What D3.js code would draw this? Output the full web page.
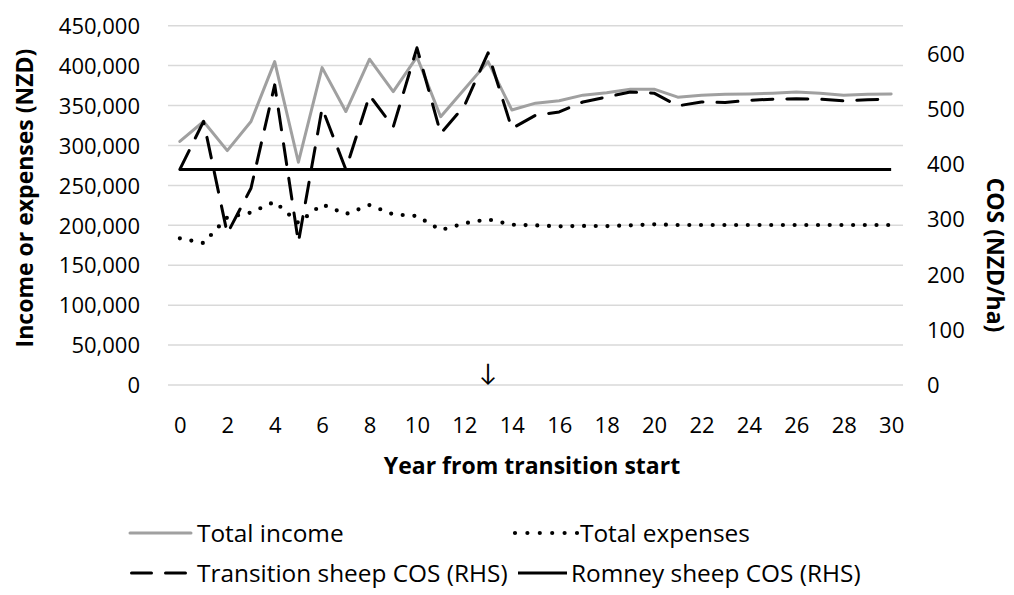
<!DOCTYPE html>
<html>
<head>
<meta charset="utf-8">
<script src="https://cdn.jsdelivr.net/npm/d3@7"></script>
<style>
  html, body { margin: 0; padding: 0; background: #fff; }
  svg { display: block; }
  text { font-family: "Open Sans", Lato, sans-serif; fill: #000; }
</style>
</head>
<body>
<svg id="chart" width="1014" height="595"></svg>
<script>
// ---- Data ----
const years = [0,1,2,3,4,5,6,7,8,9,10,11,12,13,14,15,16,17,18,19,20,21,22,23,24,25,26,27,28,29,30];
const totalIncome = [305000, 330000, 293500, 330000, 405000, 279000, 397500, 342500, 408000, 367500, 411000, 336000, 370500, 405000, 344500, 353000, 356000, 363000, 366000, 370500, 370500, 360500, 363000, 364000, 364500, 365500, 367000, 365500, 363000, 364000, 364500];
const totalExpenses = [183700, 177800, 210000, 216000, 229600, 203000, 226300, 214000, 225400, 213700, 211700, 194000, 202500, 207500, 200800, 200000, 198700, 199300, 199000, 200000, 201200, 200400, 200400, 200400, 200400, 200400, 200400, 200400, 200400, 200400, 200400];
const transitionCOS = [390, 477, 274, 356, 543, 258, 501, 390, 524, 467, 610, 455, 505, 601, 464, 488, 494, 512, 521, 530, 528, 505, 512, 511, 515, 517, 518, 517, 514, 516, 517];
const romneyCOS = [390, 390, 390, 390, 390, 390, 390, 390, 390, 390, 390, 390, 390, 390, 390, 390, 390, 390, 390, 390, 390, 390, 390, 390, 390, 390, 390, 390, 390, 390, 390];
const leftTicks = [0, 50000, 100000, 150000, 200000, 250000, 300000, 350000, 400000, 450000];
const rightTicks = [0, 100, 200, 300, 400, 500, 600];
const xTickLabels = [0,2,4,6,8,10,12,14,16,18,20,22,24,26,28,30];
const seriesNames = ["Total income", "Total expenses", "Transition sheep COS (RHS)", "Romney sheep COS (RHS)"];
const arrowYear = 13;

// ---- Layout ----
const svg = d3.select("#chart");
const plot = { left: 168, right: 903, top: 25.7, bottom: 385 };
const tickFont = 22;
const titleFont = 23;
const legendFont = 24.4;

const x = d3.scalePoint().domain(years).range([plot.left, plot.right]).padding(0.5);
const yL = d3.scaleLinear().domain([0, 450000]).range([plot.bottom, plot.top]);
const yR = d3.scaleLinear().domain([0, 650]).range([plot.bottom, plot.top]);

const fmt = d3.format(",");

// gridlines
svg.append("g").selectAll("line").data(leftTicks).join("line")
  .attr("x1", plot.left).attr("x2", plot.right)
  .attr("y1", d => yL(d)).attr("y2", d => yL(d))
  .attr("stroke", "#d9d9d9").attr("stroke-width", 1.5);

function styleTicks(g, dy) {
  g.select(".domain").remove();
  g.selectAll("text").attr("font-size", tickFont)
    .attr("font-family", "'Open Sans', sans-serif").attr("fill", "#000").attr("dy", dy);
}

// left axis labels
const gL = svg.append("g").attr("transform", "translate(140,0)")
  .call(d3.axisLeft(yL).tickValues(leftTicks).tickFormat(fmt).tickSize(0).tickPadding(0));
styleTicks(gL, "0.35em");

// right axis labels
const gR = svg.append("g").attr("transform", "translate(927,0)")
  .call(d3.axisRight(yR).tickValues(rightTicks).tickSize(0).tickPadding(0));
styleTicks(gR, "0.35em");

// x axis labels
const gX = svg.append("g").attr("transform", "translate(0,425)")
  .call(d3.axisBottom(x).tickValues(xTickLabels).tickSize(0).tickPadding(0));
styleTicks(gX, "0.35em");

// axis titles
svg.append("text").attr("transform", "translate(25,198) rotate(-90)")
  .attr("text-anchor", "middle").attr("dy", "0.35em").attr("font-size", titleFont).attr("font-weight", "bold")
  .text("Income or expenses (NZD)");
svg.append("text").attr("transform", "translate(995,255) rotate(90)")
  .attr("text-anchor", "middle").attr("dy", "0.35em").attr("font-size", titleFont).attr("font-weight", "bold")
  .text("COS (NZD/ha)");
svg.append("text").attr("x", 532).attr("y", 466).attr("dy", "0.35em")
  .attr("text-anchor", "middle").attr("font-size", titleFont).attr("font-weight", "bold")
  .text("Year from transition start");

// lines
const lineL = d3.line().x((d, i) => x(years[i])).y(d => yL(d));
const lineR = d3.line().x((d, i) => x(years[i])).y(d => yR(d));

const styles = {
  income: { stroke: "#a0a0a0", width: 3, dash: null, cap: "round" },
  expenses: { stroke: "#000", width: 4.2, dash: "0,11.7", cap: "round" },
  transition: { stroke: "#000", width: 3, dash: "21,14", cap: "round" },
  romney: { stroke: "#000", width: 3, dash: null, cap: "butt" }
};

function drawPath(data, gen, s) {
  const p = svg.append("path").attr("d", gen(data)).attr("fill", "none")
    .attr("stroke", s.stroke).attr("stroke-width", s.width)
    .attr("stroke-linecap", s.cap).attr("stroke-linejoin", "round");
  if (s.dash) p.attr("stroke-dasharray", s.dash);
}

drawPath(totalIncome, lineL, styles.income);
drawPath(totalExpenses, lineL, styles.expenses);
drawPath(romneyCOS, lineR, styles.romney);
drawPath(transitionCOS, lineR, styles.transition);

// arrow marker
svg.append("text").attr("x", x(arrowYear)).attr("y", 381)
  .attr("text-anchor", "middle").attr("font-size", 24)
  .attr("font-family", "DejaVu Sans, sans-serif").text("\u2193");

// legend
const legend = [
  { label: seriesNames[0], s: styles.income, x0: 130, x1: 191, tx: 197, y: 533, dash: null },
  { label: seriesNames[1], s: styles.expenses, x0: 515, x1: 577, tx: 580, y: 533, dash: "0,12.4" },
  { label: seriesNames[2], s: styles.transition, x0: 131.5, x1: 189.5, tx: 197, y: 573, dash: "20,14" },
  { label: seriesNames[3], s: styles.romney, x0: 518, x1: 567, tx: 571, y: 573, dash: null }
];
legend.forEach(l => {
  const ln = svg.append("line").attr("x1", l.x0).attr("x2", l.x1).attr("y1", l.y).attr("y2", l.y)
    .attr("stroke", l.s.stroke).attr("stroke-width", l.s.width).attr("stroke-linecap", l.s.cap);
  if (l.dash) ln.attr("stroke-dasharray", l.dash);
  svg.append("text").attr("x", l.tx).attr("y", l.y).attr("dy", "0.35em")
    .attr("font-size", legendFont).text(l.label);
});
</script>
</body>
</html>
